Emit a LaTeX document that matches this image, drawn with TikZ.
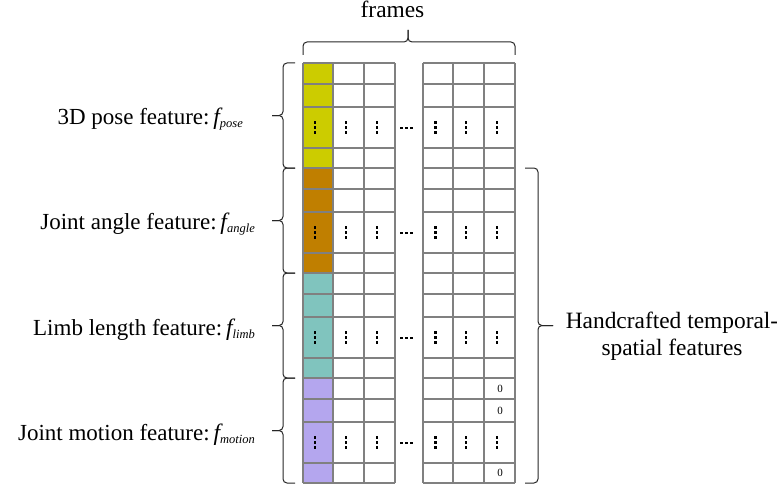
\documentclass[tikz,border=0pt]{standalone}
\usepackage{fontspec}
\setmainfont{Liberation Serif}
\definecolor{gridgray}{RGB}{128,128,128}
\definecolor{featyellow}{RGB}{204,204,0}
\definecolor{featorange}{RGB}{192,127,0}
\definecolor{featteal}{RGB}{128,196,190}
\definecolor{featpurple}{RGB}{180,166,238}
\newcommand\fsub[1]{{\fontsize{23.5}{23.5}\selectfont\itshape f}\raisebox{-3pt}{\fontsize{12.5}{12.5}\selectfont\itshape #1}}
\begin{document}
\begin{tikzpicture}[x=1pt,y=-1pt,
  gridline/.style={draw=gridgray,line width=1.5pt},
  brc/.style={draw=black!85,line width=1pt,rounded corners=4pt},
  lbl/.style={font=\fontsize{23}{26}\selectfont,inner sep=0pt},
  biglbl/.style={font=\fontsize{23.4}{27}\selectfont,inner sep=0pt},
  zero/.style={font=\fontsize{11}{11}\selectfont,inner sep=0pt},
  dotsq/.style={fill=black}
]
\useasboundingbox (0,0) rectangle (777,487);
% grid blocks
\foreach \top/\col in {63/featyellow,168/featorange,273/featteal,378/featpurple}{
  \fill[\col] (303,\top) rectangle (333,\top+105);
  \foreach \o in {0,21,44,85,105}{
    \draw[gridline] (303,\top+\o) -- (395,\top+\o);
    \draw[gridline] (423,\top+\o) -- (515,\top+\o);
  }
  \foreach \x in {303,333,364,395,423,453,484,515}
    \draw[gridline] (\x,\top) -- (\x,\top+105);
  \foreach \x in {315,346,377,435.5,466,497}{
    \foreach \d in {-5,0,5}
      \fill[dotsq] (\x-1.3,\top+64.5+\d-1.3) rectangle ++(2.6,2.6);
  }
  \foreach \d in {-5,0,5}
    \fill[dotsq] (406.7+\d-1.3,\top+65-1.3) rectangle ++(2.6,2.6);
}
% zeros
\node[zero] (z1) at (500,389) {0};
\node[zero] (z2) at (500,411) {0};
\node[zero] (z3) at (500,473) {0};
% top brace
\coordinate (tbl) at (303,55);
\coordinate (tbr) at (515,55);
\coordinate (tbt) at (408,30);
\draw[brc] (tbl) -- (303,42) -- (408,42) -- (tbt);
\draw[brc] (tbr) -- (515,42) -- (408,42) -- (tbt);
\node[biglbl,anchor=base] (frames) at (392.5,17.5) {frames};
% left braces
\foreach \t/\b/\n in {63/168/b1,168/273/b2,273/378/b3,378/483/b4}{
  \coordinate (\n t) at (295,\t);
  \coordinate (\n b) at (295,\b);
  \coordinate (\n m) at (272,{(\t+\b)/2});
  \draw[brc] (\n t) -- (283,\t) -- (283,{(\t+\b)/2}) -- (\n m);
  \draw[brc] (\n b) -- (283,\b) -- (283,{(\t+\b)/2}) -- (\n m);
}
\node[lbl,anchor=base east] (lpose) at (243,124.5) {3D pose feature:\,\fsub{pose}};
\node[lbl,anchor=base east] (langle) at (255,229.5) {Joint angle feature:\,\fsub{angle}};
\node[lbl,anchor=base east] (llimb) at (255,335) {Limb length feature:\,\fsub{limb}};
\node[lbl,anchor=base east] (lmotion) at (255,440) {Joint motion feature:\,\fsub{motion}};
% right brace
\coordinate (rbt) at (525,168);
\coordinate (rbb) at (525,483);
\coordinate (rbm) at (553,325.5);
\draw[brc] (rbt) -- (538,168) -- (538,325.5) -- (rbm);
\draw[brc] (rbb) -- (538,483) -- (538,325.5) -- (rbm);
\node[biglbl,align=center,anchor=north] (hand) at (672,312) {Handcrafted temporal-\\spatial features};
\end{tikzpicture}
\end{document}
